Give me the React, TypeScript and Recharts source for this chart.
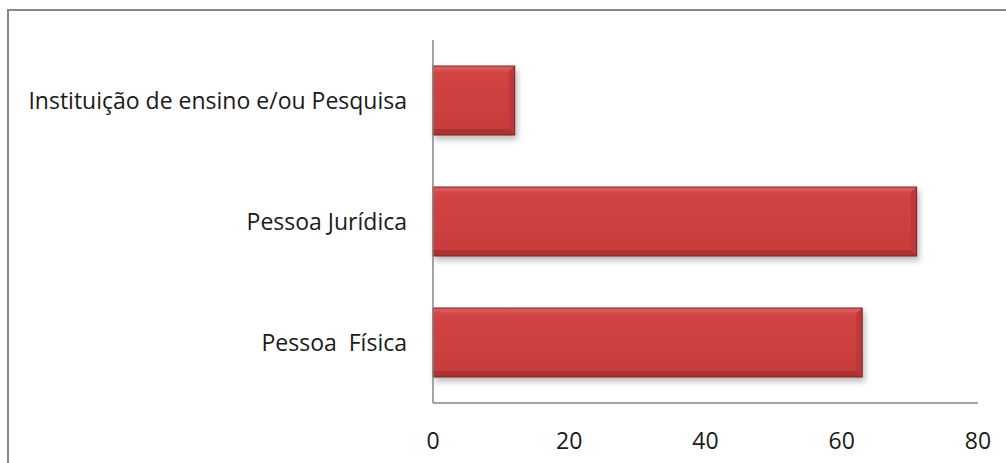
import { Bar, BarChart, XAxis, YAxis } from 'recharts';

const categories = ['Instituição de ensino e/ou Pesquisa', 'Pessoa Jurídica', 'Pessoa\u00A0 Física'];
const values = [12, 71, 63];
const xTicks = [0, 20, 40, 60, 80];

const data = categories.map((name, i) => ({ name, value: values[i] }));

const FONT = '"Open Sans", Lato, sans-serif';
const FONT_SIZE = 23;

function BevelBar(props: any) {
  const { x, y, width, height } = props;
  if (!width || width <= 0) return null;
  const b = 6;
  return (
    <g filter="url(#barShadow)">
      <rect x={x} y={y} width={width} height={height} fill="#c93d3d" />
      {/* top bevel */}
      <polygon points={`${x},${y} ${x + width},${y} ${x + width - b},${y + b} ${x},${y + b}`} fill="url(#topBevel)" />
      {/* bottom bevel */}
      <polygon
        points={`${x},${y + height} ${x + width},${y + height} ${x + width - b},${y + height - b} ${x},${y + height - b}`}
        fill="#ad3030"
      />
      {/* right bevel */}
      <polygon
        points={`${x + width},${y} ${x + width},${y + height} ${x + width - b},${y + height - b} ${x + width - b},${y + b}`}
        fill="#bd3838"
      />
      <rect x={x} y={y + b} width={width - b} height={height - 2 * b} fill="url(#faceGrad)" />
      <rect x={x} y={y} width={width} height={height} fill="none" stroke="#7d2424" strokeWidth={1} />
    </g>
  );
}

function CatTick(props: any) {
  const { x, y, payload } = props;
  return (
    <text x={x} y={y} dy={8} textAnchor="end" fontSize={FONT_SIZE} fontFamily={FONT} fill="#1a1a1a">
      {payload.value}
    </text>
  );
}

export default function App() {
  return (
    <div style={{ position: 'fixed', left: 0, top: 0, width: 1006, height: 463, background: '#fff' }}>
      <div
        style={{
          position: 'absolute',
          left: 7,
          top: 9,
          width: 1010,
          height: 470,
          border: '2px solid #868686',
          boxSizing: 'border-box',
        }}
      />
      <div style={{ position: 'absolute', left: 0, top: 0 }}>
        <BarChart
          width={1006}
          height={463}
          data={data}
          layout="vertical"
          margin={{ top: 40, right: 28, bottom: 0, left: 0 }}
          barCategoryGap="21.5%"
        >
          <defs>
            <linearGradient id="topBevel" x1="0" y1="0" x2="0" y2="1">
              <stop offset="0%" stopColor="#e06464" />
              <stop offset="100%" stopColor="#d34747" />
            </linearGradient>
            <linearGradient id="faceGrad" x1="0" y1="0" x2="0" y2="1">
              <stop offset="0%" stopColor="#d14444" />
              <stop offset="100%" stopColor="#c83c3c" />
            </linearGradient>
            <filter id="barShadow" x="-5%" y="-20%" width="115%" height="150%">
              <feDropShadow dx="2" dy="4" stdDeviation="3" floodColor="#000" floodOpacity="0.28" />
            </filter>
          </defs>
          <XAxis
            type="number"
            domain={[0, 80]}
            ticks={xTicks}
            height={60}
            axisLine={{ stroke: '#868686', strokeWidth: 1.5 }}
            tickLine={false}
            tickSize={0}
            tickMargin={30}
            tick={{ fontSize: FONT_SIZE, fontFamily: FONT, fill: '#1a1a1a' }}
          />
          <YAxis
            type="category"
            dataKey="name"
            width={433}
            axisLine={{ stroke: '#868686', strokeWidth: 1.5 }}
            tickLine={false}
            tickSize={0}
            tickMargin={26}
            tick={<CatTick />}
          />
          <Bar dataKey="value" shape={<BevelBar />} isAnimationActive={false} />
        </BarChart>
      </div>
    </div>
  );
}
